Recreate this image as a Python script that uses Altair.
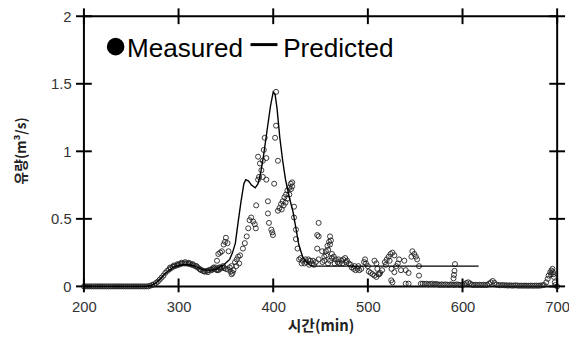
import altair as alt
import pandas as pd

# ---------------- data ----------------
# measured discharge (open circles): time [min], flow [m3/s]
t_zero = [200, 202, 204, 206, 208, 210, 212, 214, 216, 218, 220, 222, 224, 226, 228, 230, 232, 234,
          236, 238, 240, 242, 244, 246, 248, 250, 252, 254, 256, 258, 260, 262, 264, 266, 268]
q_zero = [0.0, 0.0, 0.0, 0.0, 0.0, 0.0, 0.0, 0.0, 0.0, 0.0, 0.0, 0.0, 0.0, 0.0, 0.0, 0.0, 0.0, 0.0,
          0.0, 0.0, 0.0, 0.0, 0.0, 0.0, 0.0, 0.0, 0.0, 0.0, 0.0, 0.0, 0.0, 0.0, 0.0, 0.0, 0.0]

t_bump = [270, 272, 274, 276, 278, 280, 282, 284, 286, 288, 290, 292, 294, 296, 298, 300, 302, 304,
          306, 308, 310, 312, 314, 316, 318, 320, 322, 324, 326, 328, 330, 332, 334, 336, 338, 340,
          342, 344, 346, 348, 350, 352,
          291, 295, 299, 303, 307, 311, 315, 319, 323, 327, 331, 335, 339, 343, 347]
q_bump = [0.005, 0.01, 0.015, 0.025, 0.035, 0.05, 0.065, 0.08, 0.10, 0.115, 0.125, 0.135, 0.145, 0.15,
          0.155, 0.16, 0.165, 0.17, 0.17, 0.17, 0.168, 0.165, 0.16, 0.155, 0.15, 0.14, 0.13, 0.12,
          0.115, 0.11, 0.115, 0.12, 0.125, 0.13, 0.13, 0.125, 0.12, 0.13, 0.14, 0.135, 0.13, 0.125,
          0.14, 0.155, 0.165, 0.175, 0.18, 0.175, 0.165, 0.15, 0.125, 0.11, 0.105, 0.12, 0.14, 0.14, 0.15]

t_rise = [337, 340.6, 342, 344, 345.8, 347.6, 349, 350, 351.7, 352.8, 340.6, 344, 354, 355, 356, 357,
          358, 356, 359.7, 361.5, 363, 365, 368, 370, 372, 373.6, 375, 376.7, 378.8, 380.5, 381.6,
          361, 364]
q_rise = [0.14, 0.19, 0.24, 0.25, 0.26, 0.31, 0.33, 0.36, 0.32, 0.26, 0.12, 0.14, 0.14, 0.11, 0.09, 0.10,
          0.12, 0.15, 0.18, 0.20, 0.22, 0.23, 0.28, 0.32, 0.37, 0.43, 0.49, 0.51, 0.48, 0.46, 0.43,
          0.15, 0.17]

t_peak = [382, 384, 384, 385, 386, 387.5, 389, 389, 390, 391, 392.7, 392.7, 394.4, 394.4, 395.5, 398,
          399, 399.7, 401, 402, 403, 403, 405, 405, 406.6, 408.3, 410, 411.8, 413.5, 415, 417, 418.6,
          420, 409, 411, 413, 415, 417, 418.7, 420]
q_peak = [0.60, 0.79, 0.96, 0.81, 0.91, 0.86, 0.93, 0.81, 1.01, 1.10, 0.95, 0.79, 0.63, 0.54, 0.47, 0.42,
          0.40, 0.38, 0.76, 1.10, 1.19, 1.44, 0.93, 0.56, 0.58, 0.61, 0.63, 0.66, 0.68, 0.71, 0.73, 0.76,
          0.77, 0.57, 0.60, 0.62, 0.65, 0.68, 0.72, 0.74]

t_fall = [422, 422, 424, 424, 425.7, 427.4, 429, 431, 433, 435, 437, 439, 441, 443, 445, 430, 434, 438,
          442, 448, 446.5, 448, 446.5, 451.7, 448, 452, 454, 455.6, 457.3, 459, 460, 454, 456, 458,
          460, 461, 462, 458, 460, 462, 464, 466, 468, 470, 472, 474, 476, 478, 480, 482, 465, 469,
          473, 477, 483, 485, 487, 489, 491, 493, 486, 490, 496, 498, 500, 497]
q_fall = [0.59, 0.51, 0.42, 0.35, 0.28, 0.20, 0.21, 0.19, 0.17, 0.18, 0.20, 0.19, 0.17, 0.16, 0.18, 0.17,
          0.20, 0.16, 0.19, 0.47, 0.38, 0.37, 0.28, 0.26, 0.20, 0.18, 0.22, 0.26, 0.30, 0.33, 0.37,
          0.19, 0.23, 0.27, 0.31, 0.34, 0.24, 0.17, 0.19, 0.21, 0.22, 0.20, 0.18, 0.17, 0.19, 0.20,
          0.21, 0.19, 0.17, 0.16, 0.17, 0.20, 0.17, 0.18, 0.14, 0.13, 0.12, 0.13, 0.12, 0.13, 0.15,
          0.15, 0.18, 0.17, 0.15, 0.20]

t_mid = [501, 503, 505, 507, 509, 511, 513, 515, 507, 509, 510, 512, 518, 520, 522, 524, 526, 528, 519,
         523, 524.7, 526, 525, 528, 531.6, 535, 538.5, 540, 543, 530, 533, 540, 543, 547, 549, 550.7,
         552, 546, 554, 554, 592, 591.5, 591, 590.5]
q_mid = [0.11, 0.10, 0.09, 0.08, 0.07, 0.09, 0.10, 0.12, 0.19, 0.17, 0.13, 0.09, 0.18, 0.20, 0.22, 0.24,
         0.25, 0.23, 0.16, 0.19, 0.045, 0.03, 0.13, 0.105, 0.17, 0.12, 0.19, 0.12, 0.10, 0.15, 0.20,
         0.02, 0.02, 0.26, 0.24, 0.22, 0.20, 0.22, 0.15, 0.08, 0.165, 0.115, 0.085, 0.06]

t_tail = [556, 558, 560, 562, 564, 566, 568, 570, 572, 574, 576, 578, 580, 582, 584, 586, 588, 590,
          592, 594, 596, 598, 600, 602, 604, 606, 608, 610, 612, 614, 616, 618, 620, 622, 624, 626,
          628, 630, 632, 634, 636, 638, 640, 642, 644, 646, 648, 650, 652, 654, 656, 658, 660, 662,
          664, 666, 668, 670, 672, 674, 676, 678, 680, 682, 684, 686,
          688.5, 690, 691, 692.7, 694, 695, 695.5, 696.5, 697.5, 698, 700, 693.5, 696]
q_tail = [0.02, 0.02, 0.018, 0.02, 0.015, 0.018, 0.02, 0.015, 0.018, 0.015, 0.012, 0.015, 0.012, 0.015,
          0.012, 0.012, 0.015, 0.012, 0.012, 0.015, 0.012, 0.01, 0.012, 0.015, 0.025, 0.03, 0.022,
          0.012, 0.01, 0.012, 0.01, 0.012, 0.01, 0.012, 0.01, 0.012, 0.02, 0.03, 0.04, 0.025, 0.012,
          0.01, 0.008, 0.01, 0.008, 0.008, 0.006, 0.008, 0.006, 0.006, 0.008, 0.006, 0.005, 0.006,
          0.005, 0.006, 0.005, 0.005, 0.006, 0.005, 0.005, 0.006, 0.005, 0.006, 0.008, 0.01,
          0.03, 0.056, 0.08, 0.105, 0.117, 0.13, 0.105, 0.07, 0.03, 0.01, 0.0, 0.09, 0.09]

meas_t = t_zero + t_bump + t_rise + t_peak + t_fall + t_mid + t_tail
meas_q = q_zero + q_bump + q_rise + q_peak + q_fall + q_mid + q_tail

# predicted discharge (solid line)
pred_t = [200, 265, 270, 275, 280, 285, 290, 295, 300, 305, 310, 315, 320, 325, 330, 335, 340, 345,
          348, 351, 354, 357, 360, 363, 366, 369, 371, 374, 377, 381, 384, 387, 390, 394, 397, 400,
          402, 404, 407, 410, 413, 417, 421, 424, 427, 431, 434, 438, 441, 617]
pred_q = [0.0, 0.0, 0.005, 0.02, 0.05, 0.09, 0.12, 0.145, 0.155, 0.16, 0.16, 0.155, 0.14, 0.125, 0.12,
          0.12, 0.13, 0.15, 0.16, 0.18, 0.20, 0.25, 0.32, 0.48, 0.63, 0.76, 0.79, 0.78, 0.75, 0.73,
          0.76, 0.85, 0.98, 1.18, 1.33, 1.44, 1.42, 1.32, 1.10, 0.93, 0.79, 0.66, 0.55, 0.43, 0.31,
          0.22, 0.19, 0.16, 0.15, 0.15]

x_ticks = [200, 300, 400, 500, 600, 700]
y_ticks = [0, 0.5, 1, 1.5, 2]

legend_labels = ["Measured", "Predicted"]
legend_label_t = [245.5, 410.5]
legend_label_q = [1.70, 1.70]
legend_dot_t = [233.5]
legend_dot_q = [1.775]
legend_dash_t = [376]
legend_dash_t2 = [404.5]
legend_dash_q = [1.79]

# ---------------- chart ----------------
W, H = 480, 274
FONT = "Liberation Sans"
KFONT = "Noto Sans CJK KR"

meas = pd.DataFrame({"t": meas_t, "q": meas_q})
pred = pd.DataFrame({"t": pred_t, "q": pred_q})
xt = pd.DataFrame({"t": x_ticks})
yt = pd.DataFrame({"q": y_ticks})

xs = alt.Scale(domain=[200, 700], nice=False, zero=False)
ys = alt.Scale(domain=[0, 2], nice=False)

X = alt.X("t:Q", scale=xs, title="시간(min)", axis=alt.Axis(
    values=x_ticks, ticks=False, domain=False, grid=False, labelPadding=13,
    labelFlush=False, labelOverlap=False,
    labelFont=FONT, labelFontSize=15, labelColor="#333",
    titleFont=KFONT, titleFontSize=15, titleFontWeight="bold",
    titleColor="#222", titleX=W / 2, titleY=40, titleBaseline="middle", titleAlign="center"))
Y = alt.Y("q:Q", scale=ys, title="유량(m³/s)", axis=alt.Axis(
    values=y_ticks, ticks=False, domain=False, grid=False, labelPadding=13,
    labelFlush=False, labelOverlap=False, format="~g",
    labelFont=FONT, labelFontSize=15, labelColor="#333",
    titleFont=KFONT, titleFontSize=14, titleFontWeight="bold",
    titleColor="#222", titleX=-63, titleY=136, titleAngle=270,
    titleBaseline="middle", titleAlign="center"))

points = alt.Chart(meas).mark_point(
    shape="circle", filled=False, size=26, stroke="#222", strokeWidth=0.9, opacity=1
).encode(x=X, y=Y)

line = alt.Chart(pred).mark_line(color="black", strokeWidth=1.4).encode(x=X, y=Y)

tick_style = dict(color="black", strokeWidth=2)
yl = alt.Chart(yt).mark_rule(**tick_style).encode(y=Y, x=alt.value(-8), x2=alt.value(8))
yr = alt.Chart(yt).mark_rule(**tick_style).encode(y=Y, x=alt.value(W - 8), x2=alt.value(W + 8))
xb = alt.Chart(xt).mark_rule(**tick_style).encode(x=X, y=alt.value(H - 8), y2=alt.value(H + 6))
xtp = alt.Chart(xt).mark_rule(**tick_style).encode(x=X, y=alt.value(-8), y2=alt.value(8))

leg_dot = alt.Chart(pd.DataFrame({"t": legend_dot_t, "q": legend_dot_q})).mark_point(
    shape="circle", filled=True, size=320, color="black", opacity=1
).encode(x=X, y=Y)

leg_dash = alt.Chart(pd.DataFrame({"t": legend_dash_t, "t2": legend_dash_t2, "q": legend_dash_q})).mark_rule(
    color="black", strokeWidth=3
).encode(x=X, x2="t2:Q", y=Y)

leg_text = alt.Chart(pd.DataFrame({"t": legend_label_t, "q": legend_label_q, "label": legend_labels})).mark_text(
    align="left", baseline="alphabetic", font=FONT, fontSize=26.5, color="black"
).encode(x=X, y=Y, text="label:N")

chart = alt.layer(points, line, yl, yr, xb, xtp, leg_dot, leg_dash, leg_text).properties(
    width=W, height=H,
    padding={"left": 77, "top": 6, "right": 12, "bottom": 51},
    autosize=alt.AutoSizeParams(type="none"),
    background="white",
).configure_view(stroke="black", strokeWidth=2)

chart.save("out.html", embed_options={"renderer": "svg", "actions": False})
